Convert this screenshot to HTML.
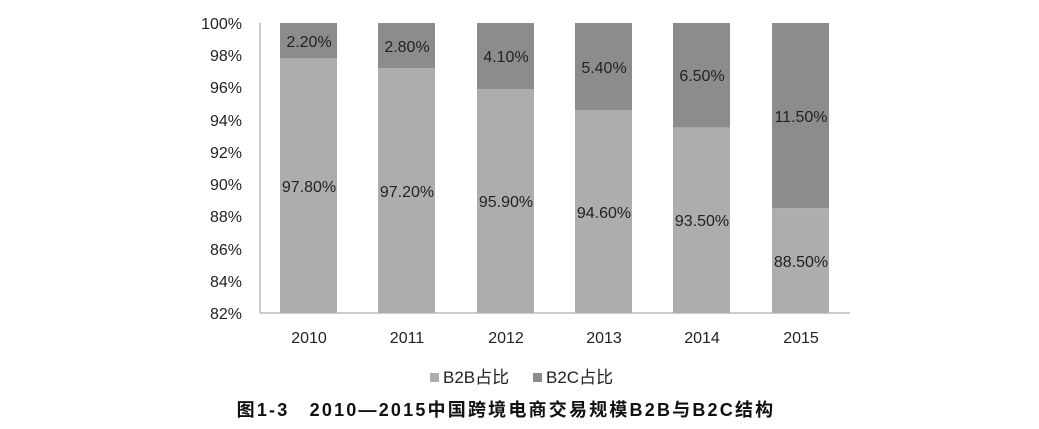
<!DOCTYPE html>
<html><head><meta charset="utf-8"><style>
body{margin:0;background:#fff;}
svg text{font-family:"Liberation Sans","Noto Sans CJK SC",sans-serif;}
</style></head><body>
<svg width="1039" height="424" xmlns="http://www.w3.org/2000/svg">
<g font-size="16" fill="#222" text-anchor="end">
<text x="242" y="29">100%</text>
<text x="242" y="61">98%</text>
<text x="242" y="93">96%</text>
<text x="242" y="126">94%</text>
<text x="242" y="158">92%</text>
<text x="242" y="190">90%</text>
<text x="242" y="222">88%</text>
<text x="242" y="255">86%</text>
<text x="242" y="287">84%</text>
<text x="242" y="319">82%</text>
</g>
<line x1="260" y1="23" x2="260" y2="313" stroke="#bbb" stroke-width="1.5"/>
<line x1="260" y1="313" x2="850" y2="313" stroke="#bbb" stroke-width="1.5"/>
<g font-size="16" fill="#222" text-anchor="middle">
<rect x="280" y="23" width="57" height="35.4" fill="#8c8c8c"/><rect x="280" y="58.4" width="57" height="254.6" fill="#adadad"/>
<text x="309" y="47">2.20%</text><text x="309" y="192">97.80%</text><text x="309" y="343">2010</text>
<rect x="378" y="23" width="57" height="45.1" fill="#8c8c8c"/><rect x="378" y="68.1" width="57" height="244.9" fill="#adadad"/>
<text x="407" y="52">2.80%</text><text x="407" y="197">97.20%</text><text x="407" y="343">2011</text>
<rect x="477" y="23" width="57" height="66" fill="#8c8c8c"/><rect x="477" y="89" width="57" height="224" fill="#adadad"/>
<text x="506" y="62">4.10%</text><text x="506" y="207">95.90%</text><text x="506" y="343">2012</text>
<rect x="575" y="23" width="57" height="87" fill="#8c8c8c"/><rect x="575" y="110" width="57" height="203" fill="#adadad"/>
<text x="604" y="73">5.40%</text><text x="604" y="218">94.60%</text><text x="604" y="343">2013</text>
<rect x="673" y="23" width="57" height="104.7" fill="#8c8c8c"/><rect x="673" y="127.7" width="57" height="185.3" fill="#adadad"/>
<text x="702" y="81">6.50%</text><text x="702" y="226">93.50%</text><text x="702" y="343">2014</text>
<rect x="772" y="23" width="57" height="185.3" fill="#8c8c8c"/><rect x="772" y="208.3" width="57" height="104.7" fill="#adadad"/>
<text x="801" y="122">11.50%</text><text x="801" y="267">88.50%</text><text x="801" y="343">2015</text>
</g>
<rect x="430" y="373" width="9" height="9" fill="#adadad"/>
<text x="443" y="383" font-size="17" fill="#222">B2B占比</text>
<rect x="533" y="373" width="9" height="9" fill="#8c8c8c"/>
<text x="546" y="383" font-size="17" fill="#222">B2C占比</text>
<text x="506" y="416" font-size="18" font-weight="bold" fill="#111" text-anchor="middle" letter-spacing="2.2">图1-3　2010—2015中国跨境电商交易规模B2B与B2C结构</text>
</svg>
</body></html>
